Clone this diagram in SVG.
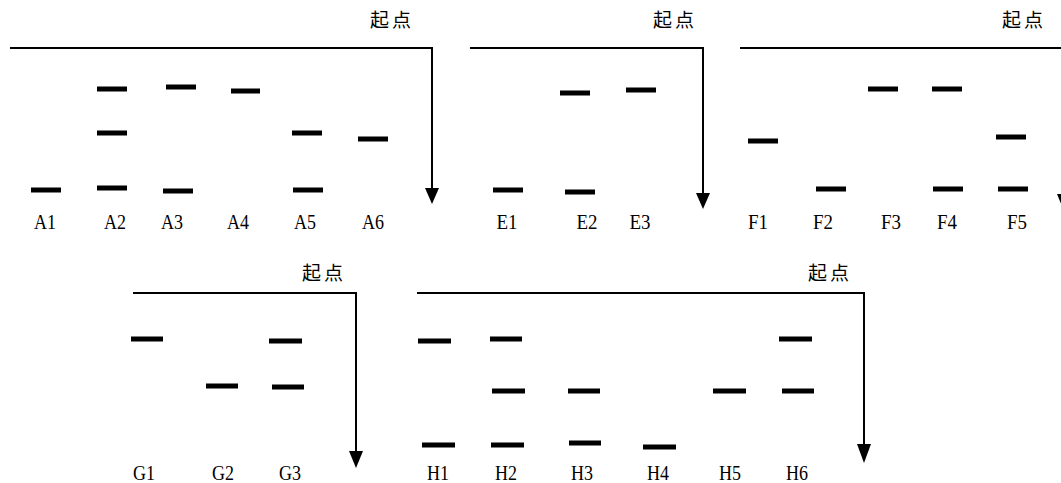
<svg xmlns="http://www.w3.org/2000/svg" width="1061" height="483" viewBox="0 0 1061 483">
<style>
.bg{fill:#fff}
.ln{stroke:#000;stroke-width:2;fill:none}
.hd{fill:#000}
.bd{fill:#000}
.lb{font-family:"Liberation Serif",serif;font-size:20px;fill:#000;text-anchor:middle}
.st{font-family:"Liberation Sans","Noto Sans CJK SC",sans-serif;font-size:19px;fill:#000;letter-spacing:3px}
</style>
<rect class="bg" x="0" y="0" width="1061" height="483"/>
<g id="connectors">
  <path class="ln" d="M10 48H432V190"/>
  <polygon class="hd" points="425,188 439,188 432,204"/>
  <path class="ln" d="M470 48H703V195"/>
  <polygon class="hd" points="696,193 710,193 703,209"/>
  <path class="ln" d="M740 48H1064V196"/>
  <polygon class="hd" points="1057,194 1071,194 1064,211"/>
  <path class="ln" d="M133 293H356V453"/>
  <polygon class="hd" points="349,451 363,451 356,468"/>
  <path class="ln" d="M417 293H864V446"/>
  <polygon class="hd" points="857,444 871,444 864,463"/>
</g>
<g id="panelA">
  <text class="st" x="370" y="27">起点</text>
  <rect class="bd" x="31" y="187.5" width="30" height="5"/>
  <rect class="bd" x="97" y="86.5" width="30" height="5"/>
  <rect class="bd" x="97" y="130.5" width="30" height="5"/>
  <rect class="bd" x="97" y="185.5" width="30" height="5"/>
  <rect class="bd" x="166" y="84.5" width="30" height="5"/>
  <rect class="bd" x="163" y="188.5" width="30" height="5"/>
  <rect class="bd" x="231" y="88.5" width="29" height="5"/>
  <rect class="bd" x="292" y="130.5" width="30" height="5"/>
  <rect class="bd" x="293" y="187.5" width="30" height="5"/>
  <rect class="bd" x="358" y="136.5" width="30" height="5"/>
  <text class="lb" x="45" y="229" textLength="22" lengthAdjust="spacingAndGlyphs">A1</text>
  <text class="lb" x="115" y="229" textLength="22" lengthAdjust="spacingAndGlyphs">A2</text>
  <text class="lb" x="172" y="229" textLength="22" lengthAdjust="spacingAndGlyphs">A3</text>
  <text class="lb" x="238" y="229" textLength="22" lengthAdjust="spacingAndGlyphs">A4</text>
  <text class="lb" x="305" y="229" textLength="22" lengthAdjust="spacingAndGlyphs">A5</text>
  <text class="lb" x="373" y="229" textLength="22" lengthAdjust="spacingAndGlyphs">A6</text>
</g>
<g id="panelE">
  <text class="st" x="653" y="27">起点</text>
  <rect class="bd" x="493" y="187.5" width="30" height="5"/>
  <rect class="bd" x="560" y="90.5" width="30" height="5"/>
  <rect class="bd" x="565" y="189.5" width="30" height="5"/>
  <rect class="bd" x="626" y="87.5" width="30" height="5"/>
  <text class="lb" x="507" y="229" textLength="21" lengthAdjust="spacingAndGlyphs">E1</text>
  <text class="lb" x="587" y="229" textLength="21" lengthAdjust="spacingAndGlyphs">E2</text>
  <text class="lb" x="640" y="229" textLength="21" lengthAdjust="spacingAndGlyphs">E3</text>
</g>
<g id="panelF">
  <text class="st" x="1002" y="27">起点</text>
  <rect class="bd" x="748" y="138.5" width="30" height="5"/>
  <rect class="bd" x="816" y="186.5" width="30" height="5"/>
  <rect class="bd" x="868" y="86.5" width="30" height="5"/>
  <rect class="bd" x="932" y="86.5" width="30" height="5"/>
  <rect class="bd" x="933" y="186.5" width="30" height="5"/>
  <rect class="bd" x="996" y="134.5" width="30" height="5"/>
  <rect class="bd" x="998" y="186.5" width="30" height="5"/>
  <text class="lb" x="758" y="229" textLength="20" lengthAdjust="spacingAndGlyphs">F1</text>
  <text class="lb" x="823" y="229" textLength="20" lengthAdjust="spacingAndGlyphs">F2</text>
  <text class="lb" x="891" y="229" textLength="20" lengthAdjust="spacingAndGlyphs">F3</text>
  <text class="lb" x="947" y="229" textLength="20" lengthAdjust="spacingAndGlyphs">F4</text>
  <text class="lb" x="1017" y="229" textLength="20" lengthAdjust="spacingAndGlyphs">F5</text>
</g>
<g id="panelG">
  <text class="st" x="302" y="280">起点</text>
  <rect class="bd" x="131" y="336.5" width="32" height="5"/>
  <rect class="bd" x="206" y="383.5" width="32" height="5"/>
  <rect class="bd" x="269" y="338.5" width="33" height="5"/>
  <rect class="bd" x="272" y="384.5" width="32" height="5"/>
  <text class="lb" x="144" y="480" textLength="22" lengthAdjust="spacingAndGlyphs">G1</text>
  <text class="lb" x="223" y="480" textLength="22" lengthAdjust="spacingAndGlyphs">G2</text>
  <text class="lb" x="290" y="480" textLength="22" lengthAdjust="spacingAndGlyphs">G3</text>
</g>
<g id="panelH">
  <text class="st" x="808" y="280">起点</text>
  <rect class="bd" x="418" y="338.5" width="33" height="5"/>
  <rect class="bd" x="490" y="336.5" width="32" height="5"/>
  <rect class="bd" x="779" y="336.5" width="33" height="5"/>
  <rect class="bd" x="492" y="388.5" width="33" height="5"/>
  <rect class="bd" x="568" y="388.5" width="32" height="5"/>
  <rect class="bd" x="713" y="388.5" width="33" height="5"/>
  <rect class="bd" x="782" y="388.5" width="32" height="5"/>
  <rect class="bd" x="422" y="442.5" width="33" height="5"/>
  <rect class="bd" x="491" y="442.5" width="33" height="5"/>
  <rect class="bd" x="569" y="440.5" width="32" height="5"/>
  <rect class="bd" x="643" y="444.5" width="33" height="5"/>
  <text class="lb" x="438" y="480" textLength="22" lengthAdjust="spacingAndGlyphs">H1</text>
  <text class="lb" x="506" y="480" textLength="22" lengthAdjust="spacingAndGlyphs">H2</text>
  <text class="lb" x="582" y="480" textLength="22" lengthAdjust="spacingAndGlyphs">H3</text>
  <text class="lb" x="658" y="480" textLength="22" lengthAdjust="spacingAndGlyphs">H4</text>
  <text class="lb" x="730" y="480" textLength="22" lengthAdjust="spacingAndGlyphs">H5</text>
  <text class="lb" x="797" y="480" textLength="22" lengthAdjust="spacingAndGlyphs">H6</text>
</g>
</svg>
